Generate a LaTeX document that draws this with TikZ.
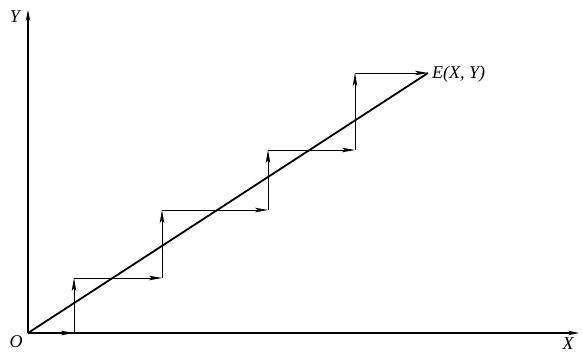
\documentclass[tikz,border=0pt]{standalone}
\usepackage{fontspec}
\setmainfont{Liberation Serif}
\usetikzlibrary{arrows.meta}
\begin{document}
\begin{tikzpicture}[x=1pt,y=-1pt,
  axis/.style={line width=1.1pt,-{Stealth[length=11pt,width=4.5pt]}},
  stepline/.style={line width=0.8pt,-{Stealth[length=13pt,width=4.5pt,inset=3pt]}},
  diag/.style={line width=1.8pt},
  lbl/.style={font=\fontsize{18}{21}\selectfont\itshape, inner sep=0pt}]
\useasboundingbox (0,0) rectangle (583,353);
\coordinate (O) at (28,333);
\coordinate (ytip) at (28,10);
\coordinate (xtip) at (579,333);
\coordinate (E) at (428,73);
\coordinate (p1) at (74,333);
\coordinate (p2) at (74,278);
\coordinate (p3) at (162,278);
\coordinate (p4) at (162,210);
\coordinate (p5) at (268,210);
\coordinate (p6) at (268,150);
\coordinate (p7) at (355,150);
\coordinate (p8) at (355,73);
\draw[axis] (O) -- (ytip);
\draw[axis] (O) -- (xtip);
\draw[diag] (O) -- (E);
\draw[stepline] (O) -- (p1);
\draw[stepline] (p1) -- (p2);
\draw[stepline] (p2) -- (p3);
\draw[stepline] (p3) -- (p4);
\draw[stepline] (p4) -- (p5);
\draw[stepline] (p5) -- (p6);
\draw[stepline] (p6) -- (p7);
\draw[stepline] (p7) -- (p8);
\draw[stepline] (p8) -- (E);
\node[lbl] (Ol) at (16,342) {O};
\node[lbl] (Yl) at (15,17) {Y};
\node[lbl] (Xl) at (568,344) {X};
\node[lbl,anchor=west] (El) at (432,74) {E(X, Y)};
\end{tikzpicture}
\end{document}
